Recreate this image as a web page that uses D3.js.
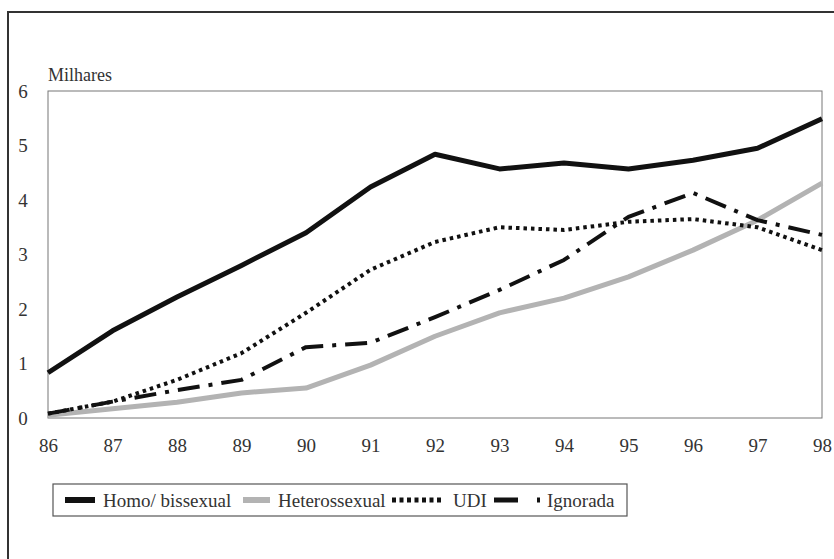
<!DOCTYPE html>
<html>
<head>
<meta charset="utf-8">
<script src="https://cdn.jsdelivr.net/npm/d3@7"></script>
<style>
  body { margin: 0; background: #fff; }
</style>
</head>
<body>
<svg id="chart" width="834" height="559"></svg>
<script>
// anos e valores (milhares)
var years = [86, 87, 88, 89, 90, 91, 92, 93, 94, 95, 96, 97, 98];
var homo = [0.83, 1.6, 2.22, 2.8, 3.4, 4.24, 4.84, 4.57, 4.68, 4.57, 4.73, 4.95, 5.49];
var hetero = [0.05, 0.17, 0.29, 0.46, 0.55, 0.97, 1.5, 1.93, 2.2, 2.59, 3.08, 3.63, 4.31];
var udi = [0.08, 0.3, 0.7, 1.19, 1.93, 2.72, 3.23, 3.5, 3.45, 3.6, 3.65, 3.5, 3.08];
var ignorada = [0.08, 0.3, 0.51, 0.7, 1.3, 1.38, 1.85, 2.35, 2.9, 3.69, 4.13, 3.63, 3.36];
var yTicks = [0, 1, 2, 3, 4, 5, 6];
var seriesNames = ["Homo/ bissexual", "Heterossexual", "UDI", "Ignorada"];

var series = [
    { name: seriesNames[0], values: homo, color: "#111", width: 5, dash: null },
    { name: seriesNames[1], values: hetero, color: "#b3b3b3", width: 5, dash: null },
    { name: seriesNames[2], values: udi, color: "#111", width: 4, dash: "3.5,4" },
    { name: seriesNames[3], values: ignorada, color: "#111", width: 4, dash: "22,9,4,9" }
];

var font = "Liberation Serif";

var svg = d3.select("#chart").attr("font-family", font),
    margin = { left: 48, right: 12, top: 91, bottom: 141 },
    W = 834, H = 559;

// moldura externa
svg.append("rect")
    .attr("x", 8).attr("y", 12)
    .attr("width", 840).attr("height", 560)
    .attr("fill", "none")
    .attr("stroke", "#333")
    .attr("stroke-width", 2);

var x = d3.scaleLinear().domain([86, 98]).range([margin.left, W - margin.right]),
    y = d3.scaleLinear().domain([0, 6]).range([H - margin.bottom, margin.top]);

// area do grafico
svg.append("rect")
    .attr("x", x(86)).attr("y", y(6))
    .attr("width", x(98) - x(86)).attr("height", y(0) - y(6))
    .attr("fill", "none")
    .attr("stroke", "#777")
    .attr("stroke-width", 1);

// eixo y
var yAxis = svg.append("g")
    .attr("transform", `translate(${x(86) - 25},0)`)
    .call(d3.axisLeft(y).tickValues(yTicks).tickFormat(d3.format("d")).tickSize(0).tickPadding(0));
yAxis.attr("font-family", font);
yAxis.select(".domain").remove();
yAxis.selectAll("text")
    .attr("text-anchor", "middle")
    .attr("font-size", 19)
    .attr("fill", "#333");

// eixo x
var xAxis = svg.append("g")
    .attr("transform", `translate(0,${y(0) + 20})`)
    .call(d3.axisBottom(x).tickValues(years).tickFormat(d3.format("d")).tickSize(0).tickPadding(0));
xAxis.attr("font-family", font);
xAxis.select(".domain").remove();
xAxis.selectAll("text")
    .attr("font-size", 19)
    .attr("fill", "#333");

svg.append("text")
    .attr("x", x(86))
    .attr("y", y(6) - 10)
    .attr("font-family", font)
    .attr("font-size", 18)
    .attr("fill", "#333")
    .text("Milhares");

var line = d3.line()
    .x((d, i) => x(years[i]))
    .y((d) => y(d));

svg.append("g")
    .selectAll("path")
    .data(series)
    .enter()
    .append("path")
    .attr("d", (s) => line(s.values))
    .attr("fill", "none")
    .attr("stroke", (s) => s.color)
    .attr("stroke-width", (s) => s.width)
    .attr("stroke-dasharray", (s) => s.dash)
    .attr("stroke-linejoin", "round");

// legenda
var legend = svg.append("g");
legend.append("rect")
    .attr("x", 53).attr("y", 484)
    .attr("width", 574).attr("height", 32)
    .attr("fill", "none")
    .attr("stroke", "#555")
    .attr("stroke-width", 1.2);

var legendItems = [
    { s: series[0], x1: 65, x2: 95, tx: 103 },
    { s: series[1], x1: 243, x2: 270, tx: 278 },
    { s: series[2], x1: 392, x2: 443, tx: 453 },
    { s: series[3], x1: 494, x2: 540, tx: 547 }
];

var li = legend.selectAll("g.item")
    .data(legendItems)
    .enter()
    .append("g")
    .attr("class", "item");

li.append("line")
    .attr("x1", (d) => d.x1).attr("x2", (d) => d.x2)
    .attr("y1", 500).attr("y2", 500)
    .attr("stroke", (d) => d.s.color)
    .attr("stroke-width", (d) => d.s.width + 1)
    .attr("stroke-dasharray", (d) => d.s.dash ? (d.s.name === "UDI" ? "4,3.5" : "24,19,4,9") : null);

li.append("text")
    .attr("x", (d) => d.tx)
    .attr("y", 500)
    .attr("dy", "0.35em")
    .attr("font-family", font)
    .attr("font-size", 19)
    .attr("fill", "#333")
    .text((d) => d.s.name);
</script>
</body>
</html>
